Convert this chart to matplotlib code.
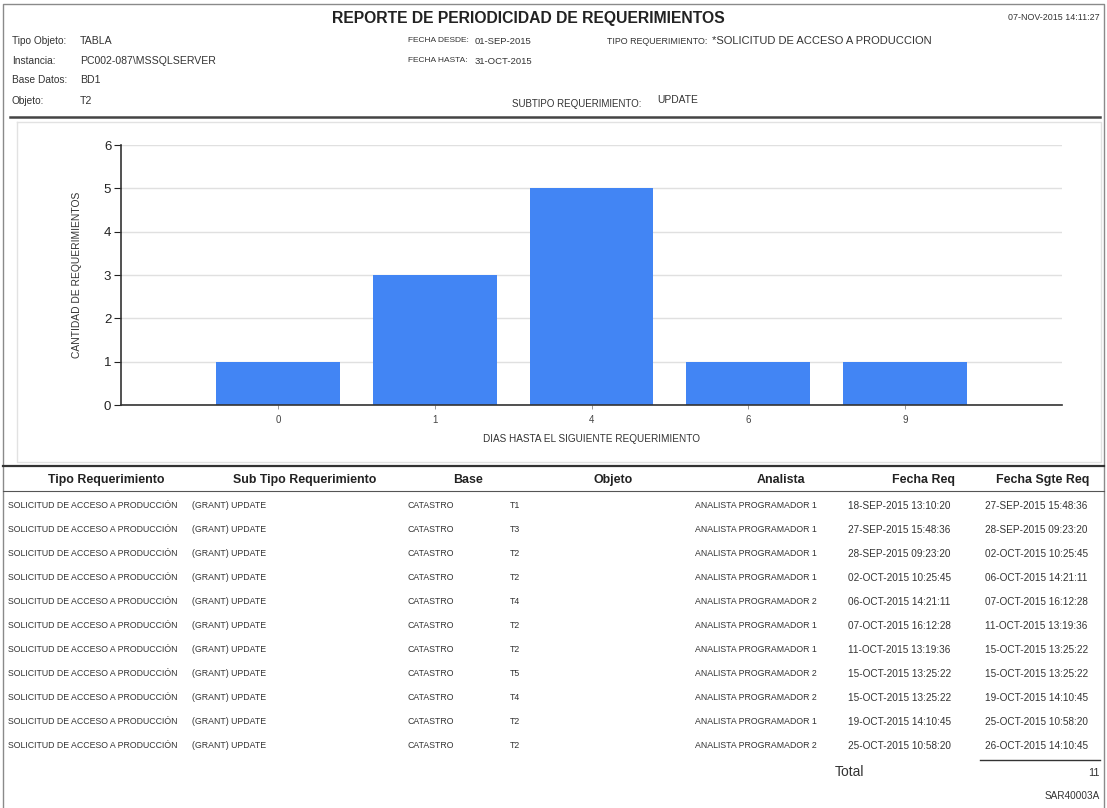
import matplotlib
matplotlib.use("Agg")
import matplotlib.pyplot as plt

# datos del grafico
dias = ['0', '1', '4', '6', '9']
cantidad = [1, 3, 5, 1, 1]

# cabecera del reporte
titulo = 'REPORTE DE PERIODICIDAD DE REQUERIMIENTOS'
fecha_reporte = '07-NOV-2015 14:11:27'
cab_izq = [('Tipo Objeto:', 'TABLA'), ('Instancia:', 'PC002-087\\MSSQLSERVER'),
           ('Base Datos:', 'BD1'), ('Objeto:', 'T2')]
cab_centro = [('FECHA DESDE:', '01-SEP-2015'), ('FECHA HASTA:', '31-OCT-2015')]

# tabla de detalle
columnas = ['Tipo Requerimiento', 'Sub Tipo Requerimiento', 'Base', 'Objeto',
            'Analista', 'Fecha Req', 'Fecha Sgte Req']
objetos = ['T1', 'T3', 'T2', 'T2', 'T4', 'T2', 'T2', 'T5', 'T4', 'T2', 'T2']
analistas = [1, 1, 1, 1, 2, 1, 1, 2, 2, 1, 2]
fechas_req = ['18-SEP-2015 13:10:20', '27-SEP-2015 15:48:36', '28-SEP-2015 09:23:20',
              '02-OCT-2015 10:25:45', '06-OCT-2015 14:21:11', '07-OCT-2015 16:12:28',
              '11-OCT-2015 13:19:36', '15-OCT-2015 13:25:22', '15-OCT-2015 13:25:22',
              '19-OCT-2015 14:10:45', '25-OCT-2015 10:58:20']
fechas_sgte = ['27-SEP-2015 15:48:36', '28-SEP-2015 09:23:20', '02-OCT-2015 10:25:45',
               '06-OCT-2015 14:21:11', '07-OCT-2015 16:12:28', '11-OCT-2015 13:19:36',
               '15-OCT-2015 13:25:22', '15-OCT-2015 13:25:22', '19-OCT-2015 14:10:45',
               '25-OCT-2015 10:58:20', '26-OCT-2015 14:10:45']

W, H = 1107, 808
plt.rcParams['font.family'] = ['Liberation Sans', 'DejaVu Sans']
fig = plt.figure(figsize=(W / 100, H / 100), dpi=100)
fig.patch.set_facecolor('white')

# capa de fondo en pixeles para textos y lineas del reporte
bg = fig.add_axes([0, 0, 1, 1])
bg.set_xlim(0, W)
bg.set_ylim(H, 0)
bg.axis('off')

txt = '#333333'

def t(x, y, s, size=6.4, ha='left', bold=False, color=txt):
    bg.text(x, y, s, fontsize=size, ha=ha, va='center', color=color,
            fontweight='bold' if bold else 'normal')

# marco exterior
bg.plot([3, 3, 1104, 1104], [808, 4, 4, 808], color='#8a8a8a', lw=1)

# cabecera
t(528, 19, titulo, size=11.3, ha='center', bold=True, color='#222222')
t(1100, 17, fecha_reporte, size=6.4, ha='right')
for i, (lab, val) in enumerate(cab_izq):
    y = [41, 61, 80, 101][i]
    t(12, y, lab, size=7.3)
    t(80, y, val, size=7.6)
for i, (lab, val) in enumerate(cab_centro):
    y = [41, 61][i]
    t(408, y, lab, size=6.0)
    t(475, y, val, size=6.8)
t(607, 41, 'TIPO REQUERIMIENTO:', size=6.4)
t(712, 41, '*SOLICITUD DE ACCESO A PRODUCCION', size=8.0)
t(512, 104, 'SUBTIPO REQUERIMIENTO:', size=7.0)
t(657, 100, 'UPDATE', size=7.4)
bg.plot([10, 1100], [117, 117], color='#444444', lw=1.8)

# recuadro del grafico
bg.plot([17, 17, 1101, 1101, 17], [122, 462, 462, 122, 122], color='#e2e2e2', lw=1)

# grafico de barras
ax = fig.add_axes([121 / W, 1 - 405 / H, (1062 - 121) / W, (405 - 145) / H])
ax.bar(range(len(dias)), cantidad, width=0.79, color='#4285f4', zorder=2)
ax.set_xlim(-1, len(dias))
ax.set_ylim(0, 6)
ax.set_xticks(range(len(dias)))
ax.set_xticklabels(dias, fontsize=7, color='#444444')
ax.set_yticks(range(7))
ax.tick_params(axis='y', labelsize=9.5, colors='#222222', length=5, width=0.8, pad=2)
ax.tick_params(axis='x', length=3, width=0.6, colors='#888888', labelcolor='#444444', pad=4)
ax.grid(axis='y', color='#e0e0e0', lw=1, zorder=0)
for s in ['top', 'right']:
    ax.spines[s].set_visible(False)
ax.spines['left'].set_color('#333333')
ax.spines['bottom'].set_color('#333333')
ax.spines['left'].set_linewidth(1.2)
ax.spines['bottom'].set_linewidth(1.2)
ax.set_xlabel('DIAS HASTA EL SIGUIENTE REQUERIMIENTO', fontsize=7.2, color='#333333', labelpad=7)
ax.set_ylabel('CANTIDAD DE REQUERIMIENTOS', fontsize=7.4, color='#333333', labelpad=16)

# tabla
bg.plot([3, 1104], [466, 466], color='#333333', lw=1.6)
enc_x = [106, 305, 468, 613, 781, 924, 1043]
for x, c in zip(enc_x, columnas):
    t(x, 480, c, size=8.9, ha='center', bold=True, color='#222222')
bg.plot([3, 1104], [491, 491], color='#555555', lw=0.8)

col_x = [8, 192, 408, 510, 695, 848, 985]
for i in range(len(objetos)):
    y = 506 + 24 * i
    fila = ['SOLICITUD DE ACCESO A PRODUCCIÓN', '(GRANT) UPDATE', 'CATASTRO',
            objetos[i], 'ANALISTA PROGRAMADOR %d' % analistas[i]]
    for x, v in zip(col_x, fila):
        t(x, y, v, size=6.3)
    t(col_x[5], y, fechas_req[i], size=7.2)
    t(col_x[6], y, fechas_sgte[i], size=7.2)

bg.plot([980, 1100], [760, 760], color='#333333', lw=1)
t(835, 772, 'Total', size=10)
t(1100, 773, str(sum(cantidad)), size=7.8, ha='right')
t(1100, 796, 'SAR40003A', size=7.2, ha='right')

fig.savefig('out.png', dpi=100, facecolor='white')
